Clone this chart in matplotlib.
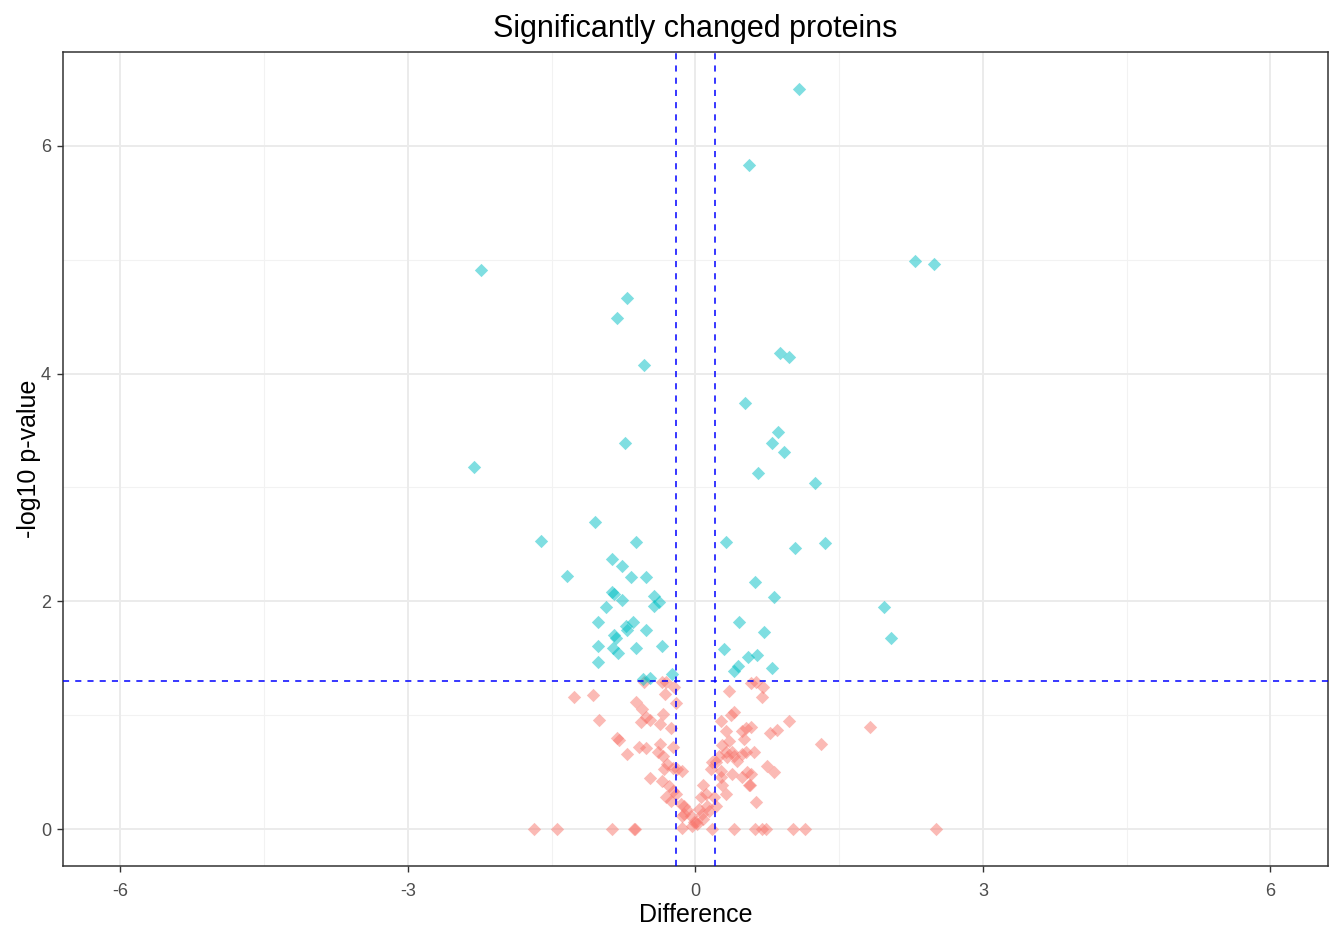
import matplotlib
matplotlib.use("Agg")
import matplotlib.pyplot as plt
import numpy as np

plt.rcParams['font.family'] = ['Liberation Sans', 'DejaVu Sans']

# Significant proteins (p < 0.05)
sig_diff = [1.085, 0.563, -2.233, 2.296, 2.494, -0.710, -0.814, -0.532, 0.887, 0.981,
            0.522, -0.730, 0.866, 0.803, 0.929, 0.657, -2.306, 1.252, -1.044, -1.607,
            -0.616, 0.323, 1.357, 1.044, -1.336, -0.866, -0.762, -0.668, -0.511, 0.626,
            -0.866, -0.845, -0.762, -0.428, -0.376, -0.428, -0.929, 0.824, 1.972, -1.012,
            -0.647, -0.720, -0.710, 0.459, -0.511, 0.720, 2.045, -0.824, -0.845, -1.012,
            -0.856, -0.804, -0.616, -0.344, -1.012, -0.240, -0.543, -0.470, 0.303, 0.553,
            0.647, 0.803, 0.407, 0.449]
sig_logp = [6.50, 5.83, 4.91, 4.99, 4.96, 4.66, 4.49, 4.08, 4.18, 4.15,
            3.74, 3.39, 3.49, 3.39, 3.31, 3.13, 3.18, 3.04, 2.70, 2.53,
            2.52, 2.52, 2.51, 2.47, 2.22, 2.37, 2.31, 2.21, 2.21, 2.17,
            2.08, 2.06, 2.01, 2.05, 1.99, 1.96, 1.95, 2.04, 1.95, 1.82,
            1.82, 1.78, 1.75, 1.82, 1.75, 1.73, 1.68, 1.68, 1.70, 1.61,
            1.59, 1.55, 1.59, 1.61, 1.47, 1.36, 1.32, 1.33, 1.58, 1.51,
            1.53, 1.41, 1.39, 1.43]

# Non-significant proteins
ns_diff = [-1.680, -1.440, -0.866, -0.637, -0.627, -0.136, 0.177, 0.407, 0.626, 0.699,
           0.741, 1.023, 1.148, 2.515,
           -1.263, -1.064, -0.616, -0.553, -0.313, -0.344, -0.303, -0.219, -0.198, -0.334,
           -1.002, -0.511, -0.470, -0.563, -0.365, -0.250, -0.814, -0.793, -0.710, -0.584,
           -0.511, -0.365, -0.386, -0.230, -0.334, -0.292, -0.323, -0.230, -0.136, -0.188,
           -0.470, -0.344, -0.271, -0.230, -0.303, -0.250, -0.198, -0.146, -0.115, -0.083,
           -0.115, -0.136, -0.042, -0.010, 0.010, -0.031, 0.021, -0.532,
           0.355, 0.584, 0.637, 0.710, 0.699, 0.271, 0.376, 0.407, 0.323, 0.490,
           0.532, 0.584, 0.511, 0.981, 0.783, 0.856, 0.282, 0.355, 0.323, 0.386,
           0.532, 0.616, 0.334, 0.490, 0.177, 0.167, 0.271, 0.386, 0.490, 0.751,
           0.824, 0.584, 0.574, 0.323, 0.637, 0.083, 0.219, 0.271, 0.282, 0.063,
           0.115, 0.125, 0.073, 0.198, 0.219, 0.250, 0.407, 0.563, 0.543, 1.315,
           1.826, 0.438, 0.042, 0.083, 0.146]
ns_logp = [0.0, 0.0, 0.0, 0.0, 0.0, 0.01, 0.0, 0.0, 0.0, 0.0,
           0.0, 0.0, 0.0, 0.0,
           1.16, 1.18, 1.12, 1.05, 1.19, 1.29, 1.29, 1.25, 1.11, 1.01,
           0.96, 0.98, 0.96, 0.94, 0.92, 0.89, 0.80, 0.78, 0.66, 0.72,
           0.71, 0.75, 0.68, 0.72, 0.64, 0.57, 0.53, 0.54, 0.51, 0.53,
           0.45, 0.42, 0.38, 0.33, 0.28, 0.25, 0.31, 0.22, 0.20, 0.17,
           0.13, 0.11, 0.11, 0.06, 0.06, 0.03, 0.04, 1.29,
           1.21, 1.28, 1.29, 1.25, 1.16, 0.95, 1.00, 1.03, 0.86, 0.86,
           0.89, 0.90, 0.79, 0.95, 0.84, 0.87, 0.74, 0.77, 0.68, 0.68,
           0.68, 0.68, 0.63, 0.66, 0.59, 0.53, 0.51, 0.48, 0.46, 0.55,
           0.50, 0.48, 0.39, 0.31, 0.24, 0.39, 0.59, 0.46, 0.39, 0.28,
           0.31, 0.20, 0.13, 0.28, 0.20, 0.64, 0.64, 0.39, 0.50, 0.75,
           0.90, 0.60, 0.18, 0.09, 0.16]

fc_cut = 0.2
p_cut = -np.log10(0.05)

x_ticks = [-6, -3, 0, 3, 6]
y_ticks = [0, 2, 4, 6]

fig = plt.figure(figsize=(13.38, 9.30), dpi=100)
ax = fig.add_axes([0.047, 0.0688, 0.9455, 0.8753])

ax.set_xlim(-6.6, 6.6)
ax.set_ylim(-0.325, 6.825)

# grid (theme_bw)
for v in [-4.5, -1.5, 1.5, 4.5]:
    ax.axvline(v, color='#F2F2F2', lw=0.8, zorder=0)
for v in [1, 3, 5]:
    ax.axhline(v, color='#F2F2F2', lw=0.8, zorder=0)
for v in x_ticks:
    ax.axvline(v, color='#EBEBEB', lw=1.4, zorder=0)
for v in y_ticks:
    ax.axhline(v, color='#EBEBEB', lw=1.4, zorder=0)

ax.scatter(ns_diff, ns_logp, marker='D', s=46, color='#F8766D', alpha=0.5,
           linewidths=0, zorder=2)
ax.scatter(sig_diff, sig_logp, marker='D', s=46, color='#00BFC4', alpha=0.5,
           linewidths=0, zorder=2)

ax.axvline(-fc_cut, color='#0000FF', lw=1.1, ls=(0, (4, 4)), zorder=3)
ax.axvline(fc_cut, color='#0000FF', lw=1.1, ls=(0, (4, 4)), zorder=3)
ax.axhline(p_cut, color='#0000FF', lw=1.1, ls=(0, (4, 4)), zorder=3)

ax.set_xticks(x_ticks)
ax.set_xticklabels([str(t) for t in x_ticks])
ax.set_yticks(y_ticks)
ax.set_yticklabels([str(t) for t in y_ticks])
ax.tick_params(axis='both', colors='#333333', labelcolor='#4D4D4D',
               labelsize=13, length=4.5, width=1)
ax.tick_params(axis='x', pad=8)
ax.tick_params(axis='y', pad=4)

for sp in ax.spines.values():
    sp.set_color('#333333')
    sp.set_linewidth(1.1)

ax.set_xlabel('Difference', fontsize=18, color='black', labelpad=2)
ax.set_ylabel('-log10 p-value', fontsize=18, color='black', labelpad=0)
ax.set_title('Significantly changed proteins', fontsize=22, color='black', pad=11)

fig.savefig('out.png', dpi=100)
